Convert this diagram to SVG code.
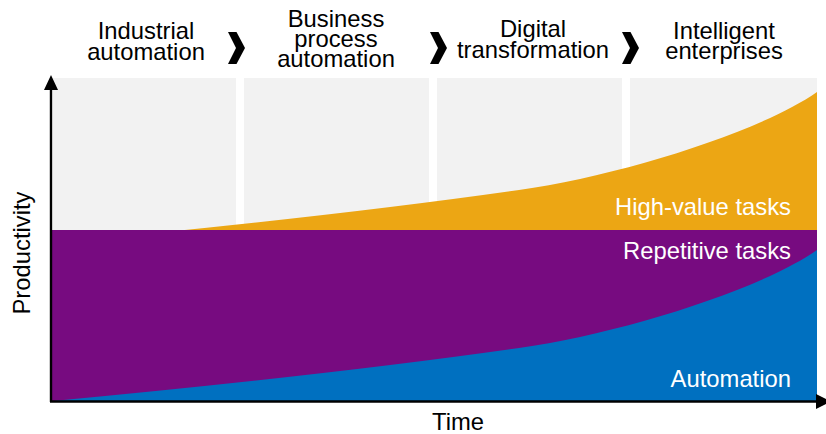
<svg xmlns="http://www.w3.org/2000/svg" width="826" height="434" viewBox="0 0 826 434">
<style>
.t{font-family:"Liberation Sans",Arial,sans-serif;font-size:23.8px;fill:#000;text-anchor:middle}
.w{font-family:"Liberation Sans",Arial,sans-serif;font-size:23.8px;fill:#fff;text-anchor:end}
.panel{fill:#F2F2F2}
.ax{stroke:#000;stroke-width:2.4;fill:none}
</style>
<defs>
<polygon id="chev" points="0,0 8.5,0 17,16 8.5,32 0,32 8,16" fill="#000"/>
</defs>
<rect width="826" height="434" fill="#fff"/>
<g id="panels">
<rect class="panel" x="53" y="78" width="183" height="152"/>
<rect class="panel" x="244" y="78" width="185" height="152"/>
<rect class="panel" x="437" y="78" width="185" height="152"/>
<rect class="panel" x="630" y="78" width="187" height="152"/>
</g>
<g id="high-value">
<path d="M53,243 Q330,217 519,190 C620,175.6 760,132 817,92 L817,401 L53,401 Z" fill="#ECA614"/>
</g>
<g id="repetitive">
<rect x="52" y="230" width="765" height="171" fill="#770B80"/>
</g>
<g id="automation">
<path d="M53,401 Q330,375 519,348 C620,333.6 760,290 817,250 L817,401 Z" fill="#0070C0"/>
</g>
<g id="connectors">
<line class="ax" x1="51" y1="88" x2="51" y2="402"/>
<polygon points="51,75 44,90 58,90" fill="#000"/>
<line class="ax" x1="50" y1="401.5" x2="818" y2="401.5"/>
<polygon points="816,394 816,409 831,401.5" fill="#000"/>
<use href="#chev" x="228" y="32"/>
<use href="#chev" x="430" y="32"/>
<use href="#chev" x="622" y="32"/>
</g>
<g id="stage1"><text class="t" x="146" y="39">Industrial</text><text class="t" x="146" y="60">automation</text></g>
<g id="stage2"><text class="t" x="336" y="27">Business</text><text class="t" x="336" y="47">process</text><text class="t" x="336" y="67">automation</text></g>
<g id="stage3"><text class="t" x="533" y="37">Digital</text><text class="t" x="533" y="58">transformation</text></g>
<g id="stage4"><text class="t" x="724" y="39">Intelligent</text><text class="t" x="724" y="59">enterprises</text></g>
<g id="labels">
<text class="w" x="791" y="215">High-value tasks</text>
<text class="w" x="791" y="259">Repetitive tasks</text>
<text class="w" x="791" y="387">Automation</text>
<text class="t" x="458" y="430">Time</text>
<text class="t" transform="translate(30,253) rotate(-90)">Productivity</text>
</g>
</svg>
